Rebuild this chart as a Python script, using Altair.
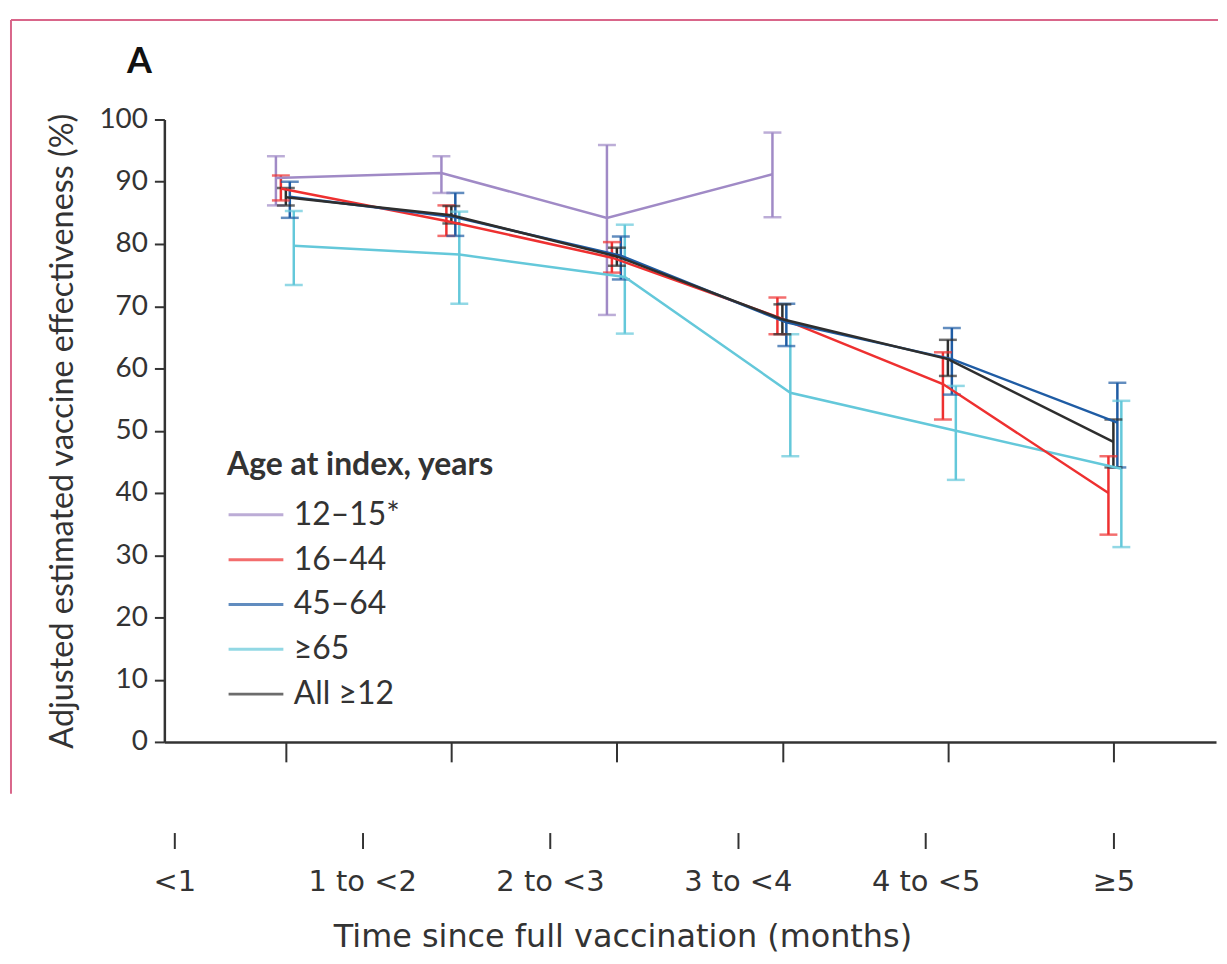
import json
import altair as alt
import pandas as pd

# ---------------- data ----------------
periods = ["<1", "1 to <2", "2 to <3", "3 to <4", "4 to <5", "≥5"]
groups = ["12–15*", "16–44", "45–64", "≥65", "All ≥12"]

ve_12_15 = [90.6, 91.4, 84.2, 91.2]
lo_12_15 = [86.2, 88.2, 68.6, 84.3]
hi_12_15 = [94.1, 94.1, 95.9, 97.9]

ve_16_44 = [88.9, 83.7, 77.8, 68.3, 57.5, 40.0]
lo_16_44 = [87.0, 81.3, 75.4, 65.5, 51.8, 33.3]
hi_16_44 = [91.0, 86.2, 80.3, 71.4, 62.6, 45.9]

ve_45_64 = [87.6, 84.3, 78.1, 67.4, 61.5, 51.3]
lo_45_64 = [84.2, 81.3, 74.3, 63.6, 55.8, 44.1]
hi_45_64 = [90.0, 88.2, 81.2, 70.4, 66.5, 57.7]

ve_65 = [79.7, 78.3, 74.7, 56.1, 50.0, 43.9]
lo_65 = [73.4, 70.4, 65.6, 45.9, 42.1, 31.3]
hi_65 = [85.3, 85.2, 83.1, 65.5, 57.2, 54.8]

ve_all = [87.5, 84.6, 78.0, 67.9, 61.5, 48.2]
lo_all = [86.2, 83.3, 76.5, 65.5, 58.8, 44.1]
hi_all = [89.0, 86.1, 79.4, 70.3, 64.6, 51.8]

panel_label = "A"
y_title = "Adjusted estimated vaccine effectiveness (%)"
x_title = "Time since full vaccination (months)"
legend_title = "Age at index, years"

# ---------------- styles ----------------
FONT = "Lato"
FONT2 = "DejaVu Sans"
DARK = "#333333"
PINK = "#d9668a"
colors = ["#a08ac6", "#ee3030", "#1f5ca4", "#64c8da", "#2e2e2e"]
dodge = {"12–15*": -0.06, "16–44": -0.03, "45–64": 0.024, "≥65": 0.048, "All ≥12": 0.0}
draw_order = ["≥65", "12–15*", "16–44", "45–64", "All ≥12"]

series = {
    "12–15*": (ve_12_15, lo_12_15, hi_12_15),
    "16–44": (ve_16_44, lo_16_44, hi_16_44),
    "45–64": (ve_45_64, lo_45_64, hi_45_64),
    "≥65": (ve_65, lo_65, hi_65),
    "All ≥12": (ve_all, lo_all, hi_all),
}

rows = []
for g in draw_order:
    ve, lo, hi = series[g]
    for i in range(len(ve)):
        rows.append({"group": g, "period": periods[i], "x": i + dodge[g],
                     "ve": ve[i], "lo": lo[i], "hi": hi[i]})
df = pd.DataFrame(rows)

W, H = 1056, 625

x_enc = alt.X("x:Q",
              scale=alt.Scale(domain=[-0.734, 5.62], nice=False, zero=False),
              axis=alt.Axis(values=list(range(6)), labels=False, title=None, grid=False,
                            tickSize=20, tickWidth=2, tickColor=DARK,
                            domainColor=DARK, domainWidth=2.5))
y_axis = alt.Axis(values=list(range(0, 101, 10)), title=y_title, grid=False,
                  tickSize=10, tickWidth=2, tickColor=DARK, domainColor=DARK,
                  domainWidth=2.5, labelFont=FONT, labelFontSize=28, labelColor=DARK,
                  labelPadding=7, titleFont=FONT, titleFontSize=32.5,
                  titleFontWeight="normal", titleColor=DARK, titlePadding=20)
y_scale = alt.Scale(domain=[0, 100], nice=False, zero=True)

color_enc = alt.Color("group:N",
                      scale=alt.Scale(domain=groups, range=colors),
                      legend=alt.Legend(title=legend_title, orient="none",
                                        legendX=63, legendY=332,
                                        symbolType="stroke", symbolSize=3025,
                                        symbolStrokeWidth=3, labelFontSize=32,
                                        labelFont=FONT, titleFont=FONT,
                                        titleFontSize=32, titleFontWeight="bold",
                                        titleColor=DARK, labelColor=DARK,
                                        rowPadding=0, labelOffset=9,
                                        titlePadding=4, labelLimit=0,
                                        titleLimit=500))

base = alt.Chart(df)

lines = base.mark_line(strokeWidth=2.5).encode(
    x=x_enc, y=alt.Y("ve:Q", scale=y_scale, axis=y_axis), color=color_enc,
    detail="group:N")
bars = base.mark_rule(strokeWidth=2.5).encode(
    x=x_enc, y=alt.Y("lo:Q", scale=y_scale, axis=y_axis), y2="hi:Q", color=color_enc)
caps_hi = base.mark_tick(orient="horizontal", size=18, thickness=2.5).encode(
    x=x_enc, y=alt.Y("hi:Q", scale=y_scale, axis=y_axis), color=color_enc)
caps_lo = base.mark_tick(orient="horizontal", size=18, thickness=2.5).encode(
    x=x_enc, y=alt.Y("lo:Q", scale=y_scale, axis=y_axis), color=color_enc)

label_df = pd.DataFrame({"label": [panel_label]})
panel = alt.Chart(label_df).mark_text(font=FONT, fontSize=36, fontWeight="bold",
                                      color="#111111", align="center",
                                      baseline="middle").encode(
    text="label:N", x=alt.value(-25), y=alt.value(-58))

one = pd.DataFrame({"k": [0]})
frame_left = alt.Chart(one).mark_rule(color=PINK, strokeWidth=2).encode(
    x=alt.value(-154), y=alt.value(-100), y2=alt.value(677))
frame_top = alt.Chart(one).mark_rule(color=PINK, strokeWidth=2).encode(
    x=alt.value(-154), x2=alt.value(1058), y=alt.value(-100))

top = alt.layer(frame_left, frame_top, panel, bars, caps_hi, caps_lo, lines).properties(
    width=W, height=H)

label_expr = json.dumps(periods) + "[datum.value]"
axis_df = pd.DataFrame({"idx": list(range(len(periods)))})
bottom = alt.Chart(axis_df).mark_point(size=1, opacity=0).encode(
    x=alt.X("idx:Q", scale=alt.Scale(domain=[-0.053, 5.546], nice=False, zero=False),
            axis=alt.Axis(values=list(range(6)), labelExpr=label_expr, title=x_title,
                          domain=False, grid=False, tickSize=16, tickWidth=2,
                          tickColor=DARK, labelFont=FONT2, labelFontSize=29,
                          labelColor=DARK, labelPadding=19, titleFont=FONT2,
                          titleFontSize=32, titleFontWeight="normal",
                          titleColor=DARK, titlePadding=25, titleX=460,
                          titleAlign="center", titleAnchor="start"))
).properties(width=W, height=1)

chart = alt.vconcat(top, bottom, spacing=37).properties(
    padding={"left": 2, "top": 9, "right": 0, "bottom": 0}
).configure_view(stroke=None)

chart.save("out.html", embed_options={"renderer": "svg", "actions": False})
